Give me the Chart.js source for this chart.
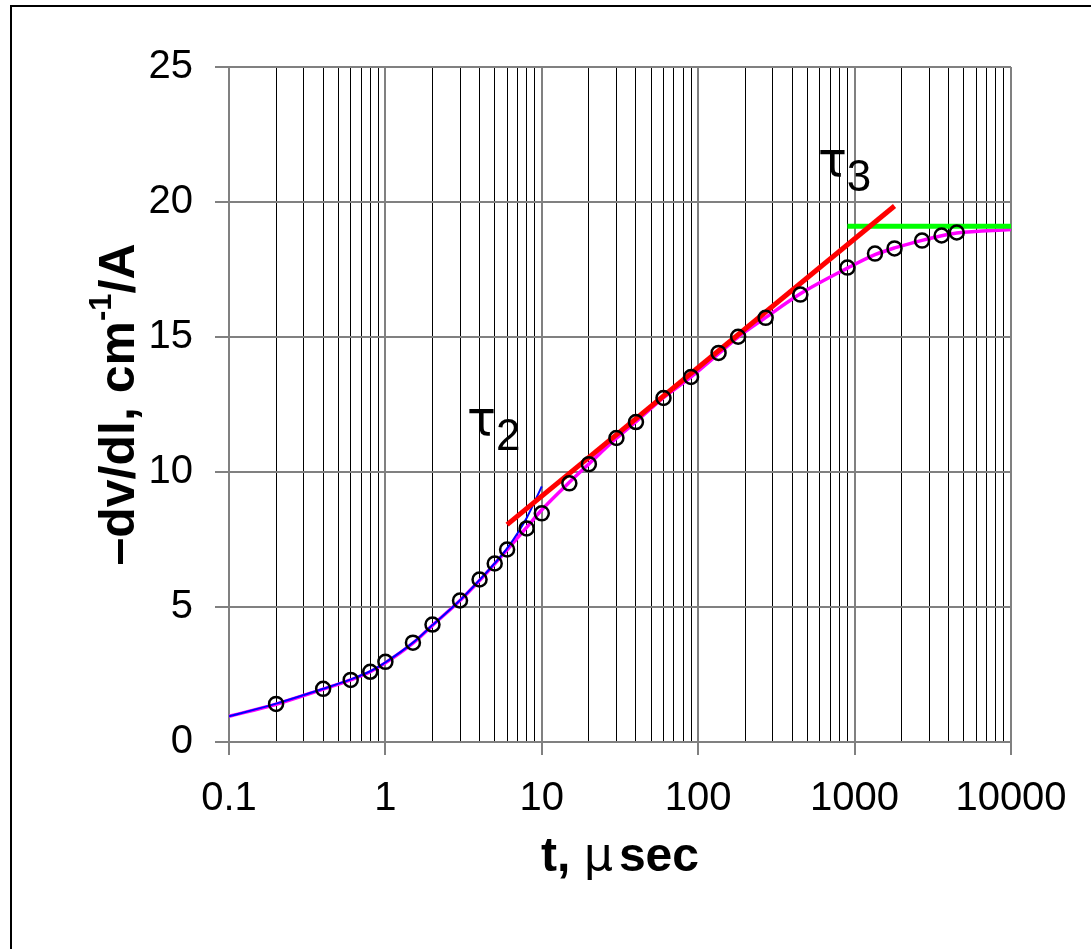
<!DOCTYPE html>
<html>
<head>
<meta charset="utf-8">
<script src="https://cdn.jsdelivr.net/npm/chart.js@4/dist/chart.umd.min.js"></script>
<style>
  body { margin: 0; background: #fff; }
  #wrap { position: relative; width: 1091px; height: 949px; }
  #frame { position: absolute; left: 10px; top: 5px; right: 0; bottom: 0;
           border-left: 2px solid #000; border-top: 2px solid #000; pointer-events: none; }
</style>
</head>
<body>
<div id="wrap">
  <canvas id="chart" width="1091" height="949"></canvas>
  <div id="frame"></div>
</div>
<script>
// measured points (circles)
const pointT = [0.2, 0.4, 0.6, 0.8, 1, 1.5, 2, 3, 4, 5, 6, 8, 10, 15, 20, 30, 40, 60, 90, 135, 180, 270, 450, 900, 1350, 1800, 2700, 3600, 4500];
const pointY = [1.41, 1.97, 2.30, 2.60, 2.97, 3.68, 4.35, 5.24, 6.02, 6.61, 7.13, 7.91, 8.47, 9.58, 10.29, 11.26, 11.85, 12.74, 13.52, 14.41, 15.01, 15.71, 16.57, 17.57, 18.09, 18.28, 18.57, 18.76, 18.87];

// magenta curve
const magentaT = [0.1, 0.2, 0.4, 0.6, 0.8, 1, 1.5, 2, 3, 4, 5, 6, 8, 10, 15, 20, 30, 40, 60, 90, 135, 180, 270, 450, 900, 1350, 1800, 2700, 3600, 4500, 10000];
const magentaY = [0.95, 1.40, 1.96, 2.30, 2.60, 2.93, 3.66, 4.32, 5.24, 5.98, 6.60, 7.12, 7.95, 8.60, 9.62, 10.30, 11.25, 11.86, 12.75, 13.52, 14.38, 15.00, 15.72, 16.60, 17.55, 18.05, 18.30, 18.58, 18.75, 18.85, 18.98];

// blue fit (tau2)
const blueT = [0.1, 0.2, 0.4, 0.6, 0.8, 1, 1.5, 2, 3, 4, 5, 6, 8, 10];
const blueY = [0.95, 1.42, 1.97, 2.32, 2.62, 2.95, 3.68, 4.33, 5.25, 6.00, 6.62, 7.17, 8.30, 9.47];

// red straight line (tau3) and green asymptote
const redT = [6, 1800];
const redY = [8.05, 19.85];
const greenT = [900, 10000];
const greenY = [19.1, 19.1];

// axes
const xTickLabels = [0.1, 1, 10, 100, 1000, 10000];
const yTickValues = [0, 5, 10, 15, 20, 25];

const FONT = "'Liberation Sans', Arial, sans-serif";

const toXY = (ts, ys) => ts.map((t, i) => ({ x: t, y: ys[i] }));

// grid lines at 1..9 of every decade
const xGrid = [];
for (let d = 0; d < xTickLabels.length - 1; d++) {
    for (let k = 1; k <= 9; k++) {
        xGrid.push(Number((xTickLabels[d] * k).toPrecision(6)));
    }
}
xGrid.push(xTickLabels[xTickLabels.length - 1]);

const isMajor = v => xTickLabels.includes(v);

// draws a row of text pieces centred on (0,0) of the current transform
function drawParts(ctx, parts) {
    let total = 0;
    parts.forEach(p => { ctx.font = p.font; total += ctx.measureText(p.text).width + (p.gap || 0); });
    let px = -total / 2;
    ctx.textAlign = "left";
    ctx.textBaseline = "middle";
    parts.forEach(p => {
        ctx.font = p.font;
        ctx.fillText(p.text, px, p.dy || 0);
        px += ctx.measureText(p.text).width + (p.gap || 0);
    });
}

// text drawn on top: axis titles and tau labels
const annotations = {
    id: "annotations",
    afterDraw(chart) {
        const ctx = chart.ctx;
        const xs = chart.scales.x;
        const ys = chart.scales.y;
        const area = chart.chartArea;
        ctx.save();
        ctx.fillStyle = "#000";

        // y title with superscript
        ctx.save();
        ctx.translate(120, (area.top + area.bottom) / 2);
        ctx.rotate(-Math.PI / 2);
        drawParts(ctx, [
            { text: "\u2013dv/dl, cm", font: "bold 50px " + FONT },
            { text: "-1", font: "bold 31px " + FONT, dy: -18 },
            { text: "/A", font: "bold 50px " + FONT },
        ]);
        ctx.restore();

        // x title
        ctx.save();
        ctx.translate((area.left + area.right) / 2, area.bottom + 116);
        drawParts(ctx, [
            { text: "t, ", font: "bold 48px " + FONT },
            { text: "\u03bc", font: "46px 'DejaVu Sans', sans-serif", gap: 6 },
            { text: "sec", font: "bold 48px " + FONT },
        ]);
        ctx.restore();

        // tau labels
        ctx.textAlign = "left";
        ctx.textBaseline = "alphabetic";
        const tau = (t, v, sub) => {
            const x = xs.getPixelForValue(t);
            const y = ys.getPixelForValue(v);
            ctx.font = "48px 'DejaVu Sans', sans-serif";
            ctx.fillText("\u03c4", x, y);
            const w = ctx.measureText("\u03c4").width;
            ctx.font = "44px " + FONT;
            ctx.fillText(sub, x + w, y + 15);
        };
        tau(3.33, 11.37, "2");
        tau(583, 20.95, "3");
        ctx.restore();
    }
};

new Chart(document.getElementById("chart"), {
    type: "scatter",
    data: {
        datasets: [
            {
                data: toXY(pointT, pointY),
                showLine: false,
                pointStyle: "circle",
                pointRadius: 7,
                pointBorderWidth: 2.5,
                pointBorderColor: "#000",
                pointBackgroundColor: "rgba(0,0,0,0)",
                order: 0,
            },
            {
                data: toXY(redT, redY),
                showLine: true,
                borderColor: "#ff0000",
                borderWidth: 5,
                pointRadius: 0,
                order: 1,
            },
            {
                data: toXY(greenT, greenY),
                showLine: true,
                borderColor: "#00ff00",
                borderWidth: 5,
                pointRadius: 0,
                order: 1,
            },
            {
                data: toXY(blueT, blueY),
                showLine: true,
                borderColor: "#0000ff",
                borderWidth: 2,
                cubicInterpolationMode: "monotone",
                pointRadius: 0,
                order: 2,
            },
            {
                data: toXY(magentaT, magentaY),
                showLine: true,
                borderColor: "#ff00ff",
                borderWidth: 3.5,
                cubicInterpolationMode: "monotone",
                pointRadius: 0,
                order: 3,
            },
        ],
    },
    options: {
        responsive: false,
        animation: false,
        events: [],
        layout: { padding: { top: 67, right: 80, left: 0, bottom: 0 } },
        plugins: {
            legend: { display: false },
            tooltip: { enabled: false },
        },
        scales: {
            x: {
                type: "logarithmic",
                min: 0.1,
                max: 10000,
                afterBuildTicks: scale => {
                    scale.ticks = xGrid.map(v => ({ value: v, major: isMajor(v) }));
                },
                afterFit: scale => { scale.height = 949 - 742; },
                ticks: {
                    autoSkip: false,
                    maxRotation: 0,
                    padding: 20,
                    color: "#000",
                    font: { family: FONT, size: 40 },
                    callback: v => (isMajor(v) ? String(v) : ""),
                },
                grid: {
                    color: c => (isMajor(c.tick.value) ? "#808080" : "#000"),
                    lineWidth: c => (isMajor(c.tick.value) ? 2 : 1),
                    tickColor: c => (isMajor(c.tick.value) ? "#808080" : "rgba(0,0,0,0)"),
                    tickLength: 13,
                },
                border: { color: "#808080", width: 2 },
            },
            y: {
                min: 0,
                max: 25,
                afterBuildTicks: scale => {
                    scale.ticks = yTickValues.map(v => ({ value: v }));
                },
                afterFit: scale => { scale.width = 229; },
                ticks: {
                    padding: 22,
                    color: "#000",
                    font: { family: FONT, size: 40 },
                },
                grid: {
                    color: "#808080",
                    lineWidth: 2,
                    tickLength: 14,
                },
                border: { color: "#808080", width: 2 },
            },
        },
    },
    plugins: [annotations],
});
</script>
</body>
</html>
